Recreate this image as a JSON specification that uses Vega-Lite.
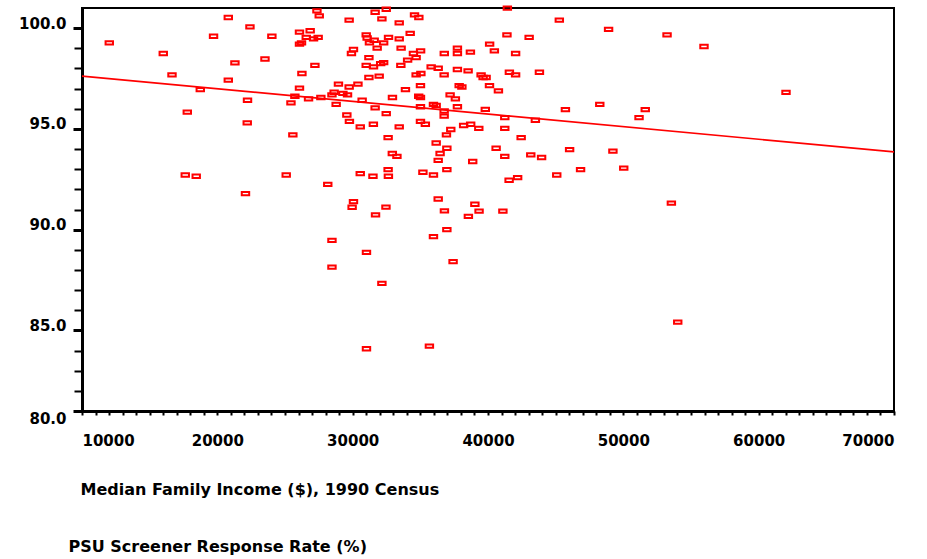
{
  "$schema": "https://vega.github.io/schema/vega-lite/v6.json",
  "width": 812,
  "height": 403,
  "autosize": "none",
  "padding": {"left": 82, "top": 8, "right": 33, "bottom": 148},
  "background": "white",
  "config": {
    "view": {"stroke": "black", "strokeWidth": 2},
    "font": "DejaVu Sans"
  },
  "resolve": {"axis": {"x": "independent", "y": "independent"}},
  "datasets": {
    "psu": [
      {"income": 12016, "rate": 99.27}, {"income": 16005, "rate": 98.74}, {"income": 16650, "rate": 97.68},
      {"income": 18740, "rate": 96.95}, {"income": 17780, "rate": 95.83}, {"income": 19720, "rate": 99.60},
      {"income": 20810, "rate": 100.53}, {"income": 22410, "rate": 100.06}, {"income": 21300, "rate": 98.28},
      {"income": 20810, "rate": 97.42}, {"income": 22230, "rate": 96.42}, {"income": 22210, "rate": 95.30},
      {"income": 17630, "rate": 92.71}, {"income": 18440, "rate": 92.65}, {"income": 22080, "rate": 91.79},
      {"income": 23520, "rate": 98.47}, {"income": 24030, "rate": 99.60}, {"income": 25090, "rate": 92.71},
      {"income": 25580, "rate": 94.70}, {"income": 25440, "rate": 96.29}, {"income": 25730, "rate": 96.62},
      {"income": 26070, "rate": 97.02}, {"income": 26250, "rate": 97.75}, {"income": 27210, "rate": 98.15},
      {"income": 27360, "rate": 100.86}, {"income": 27530, "rate": 100.61}, {"income": 29740, "rate": 100.40},
      {"income": 31660, "rate": 100.79}, {"income": 32160, "rate": 100.46}, {"income": 26070, "rate": 99.80},
      {"income": 26860, "rate": 99.87}, {"income": 26570, "rate": 99.54}, {"income": 27110, "rate": 99.47},
      {"income": 27450, "rate": 99.54}, {"income": 26070, "rate": 99.21}, {"income": 26220, "rate": 99.27},
      {"income": 31000, "rate": 99.67}, {"income": 31070, "rate": 99.51}, {"income": 31240, "rate": 99.27},
      {"income": 31590, "rate": 99.40}, {"income": 31810, "rate": 99.01}, {"income": 30060, "rate": 98.94},
      {"income": 29910, "rate": 98.74}, {"income": 31200, "rate": 98.54}, {"income": 31000, "rate": 98.15},
      {"income": 31540, "rate": 98.08}, {"income": 32070, "rate": 98.24}, {"income": 32290, "rate": 98.29},
      {"income": 31200, "rate": 97.55}, {"income": 31960, "rate": 97.62}, {"income": 28950, "rate": 97.22},
      {"income": 30390, "rate": 97.22}, {"income": 29740, "rate": 97.08}, {"income": 28630, "rate": 96.82},
      {"income": 28470, "rate": 96.69}, {"income": 29280, "rate": 96.76}, {"income": 29620, "rate": 96.69},
      {"income": 26740, "rate": 96.49}, {"income": 27650, "rate": 96.56}, {"income": 28780, "rate": 96.22},
      {"income": 30700, "rate": 96.42}, {"income": 31660, "rate": 96.04}, {"income": 32480, "rate": 100.94},
      {"income": 33440, "rate": 100.26}, {"income": 34570, "rate": 100.66}, {"income": 34890, "rate": 100.53},
      {"income": 41430, "rate": 100.99}, {"income": 32650, "rate": 99.54}, {"income": 32290, "rate": 99.27},
      {"income": 33440, "rate": 99.47}, {"income": 34250, "rate": 99.74}, {"income": 33580, "rate": 99.01},
      {"income": 35020, "rate": 98.87}, {"income": 34490, "rate": 98.74}, {"income": 34690, "rate": 98.54},
      {"income": 34060, "rate": 98.41}, {"income": 36770, "rate": 98.74}, {"income": 37740, "rate": 99.01},
      {"income": 37740, "rate": 98.74}, {"income": 38700, "rate": 98.81}, {"income": 40120, "rate": 99.21},
      {"income": 40470, "rate": 98.87}, {"income": 41400, "rate": 99.67}, {"income": 42040, "rate": 98.74},
      {"income": 33560, "rate": 98.15}, {"income": 34690, "rate": 97.68}, {"income": 35040, "rate": 97.75},
      {"income": 35800, "rate": 98.08}, {"income": 36320, "rate": 98.01}, {"income": 36760, "rate": 97.68},
      {"income": 37740, "rate": 97.95}, {"income": 38530, "rate": 97.88}, {"income": 39490, "rate": 97.68},
      {"income": 39640, "rate": 97.55}, {"income": 39860, "rate": 97.55}, {"income": 41580, "rate": 97.81},
      {"income": 42040, "rate": 97.68}, {"income": 33900, "rate": 96.95}, {"income": 35010, "rate": 97.15},
      {"income": 34880, "rate": 96.62}, {"income": 35010, "rate": 96.56}, {"income": 32940, "rate": 96.56},
      {"income": 37200, "rate": 96.69}, {"income": 37590, "rate": 96.49}, {"income": 37870, "rate": 97.15},
      {"income": 38070, "rate": 97.08}, {"income": 40110, "rate": 97.15}, {"income": 40770, "rate": 96.89},
      {"income": 35970, "rate": 96.22}, {"income": 36170, "rate": 96.16}, {"income": 35010, "rate": 96.10},
      {"income": 37740, "rate": 96.10}, {"income": 39800, "rate": 95.97}, {"income": 36760, "rate": 95.89},
      {"income": 36760, "rate": 95.63}, {"income": 29570, "rate": 95.69}, {"income": 29760, "rate": 95.37},
      {"income": 30560, "rate": 95.10}, {"income": 31530, "rate": 95.23}, {"income": 32480, "rate": 95.76},
      {"income": 33440, "rate": 95.10}, {"income": 32620, "rate": 94.57}, {"income": 35010, "rate": 95.37},
      {"income": 35370, "rate": 95.23}, {"income": 37250, "rate": 94.97}, {"income": 36930, "rate": 94.70},
      {"income": 38200, "rate": 95.17}, {"income": 38720, "rate": 95.23}, {"income": 39320, "rate": 95.03},
      {"income": 41240, "rate": 95.56}, {"income": 41240, "rate": 95.03}, {"income": 43500, "rate": 95.43},
      {"income": 45720, "rate": 95.96}, {"income": 48260, "rate": 96.22}, {"income": 42450, "rate": 94.57},
      {"income": 40600, "rate": 94.04}, {"income": 41240, "rate": 93.64}, {"income": 43160, "rate": 93.71},
      {"income": 43960, "rate": 93.58}, {"income": 46030, "rate": 93.97}, {"income": 49230, "rate": 93.90},
      {"income": 36170, "rate": 94.30}, {"income": 36960, "rate": 94.04}, {"income": 32930, "rate": 93.78},
      {"income": 33270, "rate": 93.64}, {"income": 36460, "rate": 93.78}, {"income": 36320, "rate": 93.44},
      {"income": 38870, "rate": 93.38}, {"income": 30560, "rate": 92.78}, {"income": 31500, "rate": 92.65},
      {"income": 32620, "rate": 92.98}, {"income": 32640, "rate": 92.65}, {"income": 35190, "rate": 92.85},
      {"income": 35970, "rate": 92.71}, {"income": 36960, "rate": 92.98}, {"income": 41560, "rate": 92.45},
      {"income": 42190, "rate": 92.58}, {"income": 45080, "rate": 92.71}, {"income": 46840, "rate": 92.98},
      {"income": 28160, "rate": 92.25}, {"income": 30060, "rate": 91.39}, {"income": 29960, "rate": 91.11},
      {"income": 36320, "rate": 91.52}, {"income": 32460, "rate": 91.12}, {"income": 39030, "rate": 91.26},
      {"income": 36780, "rate": 90.93}, {"income": 39340, "rate": 90.92}, {"income": 41100, "rate": 90.92},
      {"income": 38550, "rate": 90.66}, {"income": 31690, "rate": 90.73}, {"income": 36960, "rate": 90.00},
      {"income": 35970, "rate": 89.65}, {"income": 28470, "rate": 89.47}, {"income": 31020, "rate": 88.87},
      {"income": 28470, "rate": 88.14}, {"income": 37420, "rate": 88.41}, {"income": 32160, "rate": 87.33},
      {"income": 31020, "rate": 84.09}, {"income": 35670, "rate": 84.22}, {"income": 45270, "rate": 100.40},
      {"income": 48910, "rate": 99.94}, {"income": 43040, "rate": 99.54}, {"income": 43800, "rate": 97.81},
      {"income": 51620, "rate": 95.96}, {"income": 51160, "rate": 95.56}, {"income": 50030, "rate": 93.05},
      {"income": 53230, "rate": 99.67}, {"income": 55960, "rate": 99.09}, {"income": 62020, "rate": 96.81},
      {"income": 53550, "rate": 91.32}, {"income": 54020, "rate": 85.41}
    ],
    "fit": [
      {"income": 10000, "rate": 97.62},
      {"income": 70000, "rate": 93.86}
    ]
  },
  "layer": [
    {
      "data": {"name": "fit"},
      "mark": {"type": "line", "color": "#ff0000", "strokeWidth": 1.7, "clip": true},
      "encoding": {
        "x": {
          "field": "income",
          "type": "quantitative",
          "scale": {"domain": [10000, 70000], "nice": false, "zero": false},
          "axis": {
            "orient": "bottom",
            "values": [11000,12000,13000,14000,15000,16000,17000,18000,19000,21000,22000,23000,24000,25000,26000,27000,28000,29000,31000,32000,33000,34000,35000,36000,37000,38000,39000,41000,42000,43000,44000,45000,46000,47000,48000,49000,51000,52000,53000,54000,55000,56000,57000,58000,59000,61000,62000,63000,64000,65000,66000,67000,68000,69000],
            "labels": false,
            "domain": false,
            "grid": false,
            "title": null,
            "tickSize": 4,
            "tickWidth": 2,
            "tickColor": "black"
          }
        },
        "y": {
          "field": "rate",
          "type": "quantitative",
          "scale": {"domain": [81, 101], "nice": false, "zero": false},
          "axis": {
            "orient": "left",
            "values": [82,83,84,86,87,88,89,91,92,93,94,96,97,98,99],
            "labels": false,
            "domain": false,
            "grid": false,
            "title": null,
            "tickSize": 8,
            "tickWidth": 2,
            "tickColor": "black"
          }
        }
      }
    },
    {
      "data": {"name": "psu"},
      "mark": {
        "type": "point",
        "shape": "M-1,-0.45H1V0.45H-1Z",
        "size": 55,
        "filled": false,
        "fill": null,
        "stroke": "#ff0000",
        "strokeWidth": 2,
        "opacity": 1
      },
      "encoding": {
        "x": {
          "field": "income",
          "type": "quantitative",
          "scale": {"domain": [10000, 70000], "nice": false, "zero": false},
          "axis": {
            "orient": "bottom",
            "values": [10000, 20000, 30000, 40000, 50000, 60000, 70000],
            "format": "d",
            "labelOverlap": false,
            "labelFont": "DejaVu Sans",
            "labelFontWeight": "bold",
            "labelFontSize": 15,
            "labelColor": "black",
            "labelPadding": 18,
            "labelBaseline": "top",
            "tickSize": 4,
            "tickWidth": 2,
            "tickColor": "black",
            "domainColor": "black",
            "domainWidth": 3,
            "grid": false,
            "title": "Median Family Income ($), 1990 Census",
            "titleFont": "DejaVu Sans",
            "titleFontWeight": "bold",
            "titleFontSize": 16,
            "titleColor": "black",
            "titleAnchor": "start",
            "titleAlign": "left",
            "titleBaseline": "middle",
            "titleX": -2,
            "titleY": 78
          }
        },
        "y": {
          "field": "rate",
          "type": "quantitative",
          "scale": {"domain": [81, 101], "nice": false, "zero": false},
          "axis": {
            "orient": "left",
            "values": [81, 85, 90, 95, 100],
            "labelExpr": "datum.value == 81 ? '80.0' : format(datum.value, '.1f')",
            "labelOverlap": false,
            "labelFont": "DejaVu Sans",
            "labelFontWeight": "bold",
            "labelFontSize": 15,
            "labelColor": "black",
            "labelPadding": 7,
            "labelBaseline": {"condition": {"test": "datum.value == 81", "value": "top"}, "value": "alphabetic"},
            "tickSize": 9,
            "tickWidth": 3,
            "tickColor": "black",
            "domainColor": "black",
            "domainWidth": 3,
            "grid": false,
            "title": "PSU Screener Response Rate (%)",
            "titleFont": "DejaVu Sans",
            "titleFontWeight": "bold",
            "titleFontSize": 16,
            "titleColor": "black",
            "titleAngle": 0,
            "titleAlign": "left",
            "titleBaseline": "middle",
            "titleX": -14,
            "titleY": 538
          }
        }
      }
    }
  ]
}
